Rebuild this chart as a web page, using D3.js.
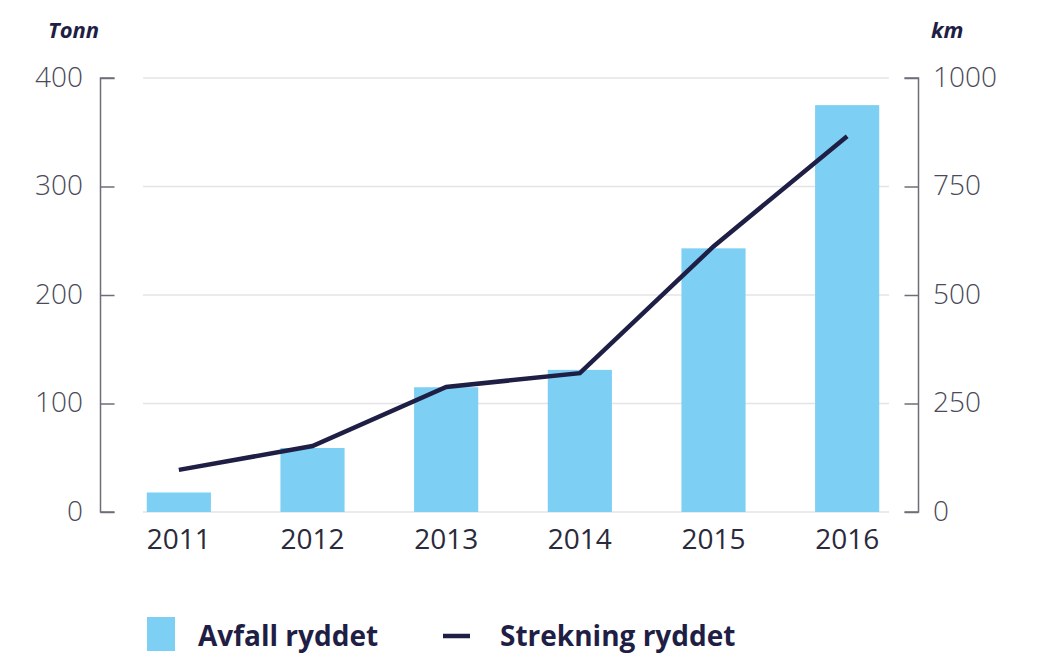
<!DOCTYPE html>
<html><head><meta charset="utf-8">
<script src="https://cdn.jsdelivr.net/npm/d3@7"></script>
<style>
body{margin:0;background:#fff;}
svg{display:block;font-family:"Open Sans",sans-serif;}
</style></head>
<body><svg id="c" width="1040" height="663"></svg>
<script>
const years = ["2011","2012","2013","2014","2015","2016"];
const tonn = [18, 59, 115, 131, 243, 375];
const km = [97, 152, 288, 320, 612, 866];
const leftTicks = [0, 100, 200, 300, 400];
const rightTicks = [0, 250, 500, 750, 1000];

const svg = d3.select("#c");
const x = d3.scaleBand().domain(years).range([112, 914]).paddingInner(0.52).paddingOuter(0.26);
const yL = d3.scaleLinear().domain([0, 400]).range([512, 78]);
const yR = d3.scaleLinear().domain([0, 1000]).range([512, 78]);

// gridlines
svg.append("g").selectAll("line").data(leftTicks).join("line")
  .attr("x1", 143).attr("x2", 889)
  .attr("y1", d => yL(d)).attr("y2", d => yL(d))
  .attr("stroke", "#e4e4e8").attr("stroke-width", 1.5);

// bars
svg.append("g").selectAll("rect").data(years).join("rect")
  .attr("x", d => x(d)).attr("width", x.bandwidth())
  .attr("y", (d, i) => yL(tonn[i])).attr("height", (d, i) => yL(0) - yL(tonn[i]))
  .attr("fill", "#7dd0f4");

// line
const line = d3.line().x((d, i) => x(years[i]) + x.bandwidth() / 2).y(d => yR(d));
svg.append("path").datum(km).attr("d", line)
  .attr("fill", "none").attr("stroke", "#1f1e45").attr("stroke-width", 4.5)
  .attr("stroke-linejoin", "miter");

// left axis
const axL = d3.axisRight(yL).tickValues(leftTicks).tickSize(14).tickFormat("");
const gL = svg.append("g").attr("transform", "translate(100.5,0)").call(axL);
gL.select(".domain").attr("d", `M14,${yL(400)}H0V${yL(0)}H14`);
gL.selectAll("line, path").attr("stroke", "#6e6e7a").attr("stroke-width", 1.5);
svg.append("g").selectAll("text").data(leftTicks).join("text")
  .attr("x", 83).attr("y", d => yL(d)).attr("dy", "0.32em").attr("text-anchor", "end")
  .attr("font-size", 28).attr("font-weight", 300).attr("fill", "#4a4a58").text(d => d);

// right axis
const axR = d3.axisLeft(yR).tickValues(rightTicks).tickSize(14).tickFormat("");
const gR = svg.append("g").attr("transform", "translate(918.5,0)").call(axR);
gR.select(".domain").attr("d", `M-14,${yR(1000)}H0V${yR(0)}H-14`);
gR.selectAll("line, path").attr("stroke", "#6e6e7a").attr("stroke-width", 1.5);
svg.append("g").selectAll("text").data(rightTicks).join("text")
  .attr("x", 933).attr("y", d => yR(d)).attr("dy", "0.32em").attr("text-anchor", "start")
  .attr("font-size", 28).attr("font-weight", 300).attr("fill", "#4a4a58").text(d => d);

// x labels
svg.append("g").selectAll("text").data(years).join("text")
  .attr("x", d => x(d) + x.bandwidth() / 2).attr("y", 549).attr("text-anchor", "middle")
  .attr("font-size", 28).attr("font-weight", 400).attr("fill", "#2a2a3c").text(d => d);

// axis titles
svg.append("text").attr("x", 48).attr("y", 38).attr("font-size", 22).attr("font-weight", 700)
  .attr("font-style", "italic").attr("fill", "#1f1e45").text("Tonn");
svg.append("text").attr("x", 931).attr("y", 38).attr("font-size", 22).attr("font-weight", 700)
  .attr("font-style", "italic").attr("fill", "#1f1e45").text("km");

// legend
svg.append("rect").attr("x", 147).attr("y", 617).attr("width", 28).attr("height", 34).attr("fill", "#7dd0f4");
svg.append("text").attr("x", 198).attr("y", 646).attr("font-size", 28).attr("font-weight", 700)
  .attr("fill", "#1f1e45").text("Avfall ryddet");
svg.append("line").attr("x1", 443).attr("x2", 470).attr("y1", 636).attr("y2", 636)
  .attr("stroke", "#1f1e45").attr("stroke-width", 4.5);
svg.append("text").attr("x", 500).attr("y", 646).attr("font-size", 28).attr("font-weight", 700)
  .attr("fill", "#1f1e45").text("Strekning ryddet");
</script></body></html>
